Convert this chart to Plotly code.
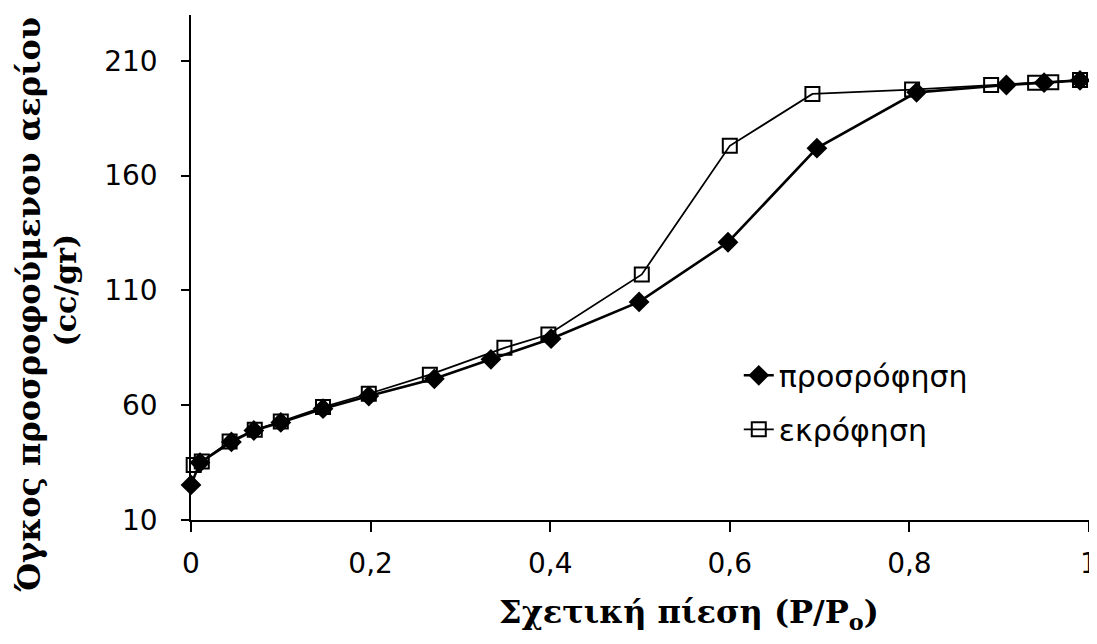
import plotly.graph_objects as go

# Adsorption (filled diamonds)
ads_x = [0.0, 0.01, 0.045, 0.07, 0.1, 0.147, 0.198, 0.271, 0.334, 0.401, 0.499, 0.598, 0.697, 0.808, 0.908, 0.95, 0.99]
ads_y = [25.3, 35.0, 44.0, 49.0, 52.5, 58.5, 64.0, 71.5, 80.0, 89.0, 105.0, 131.0, 172.0, 196.3, 199.5, 200.5, 201.5]

# Desorption (open squares)
des_x = [0.99, 0.958, 0.94, 0.891, 0.803, 0.692, 0.6, 0.502, 0.398, 0.349, 0.266, 0.198, 0.147, 0.1, 0.071, 0.043, 0.012, 0.003]
des_y = [201.7, 200.7, 200.5, 199.5, 197.5, 195.6, 173.0, 117.0, 90.8, 85.0, 73.3, 65.0, 59.2, 52.9, 49.3, 44.2, 35.5, 34.0]

x_ticks = [0, 0.2, 0.4, 0.6, 0.8, 1]
x_ticktext = ["0", "0,2", "0,4", "0,6", "0,8", "1"]
y_ticks = [10, 60, 110, 160, 210]

ads_name = "προσρόφηση"
des_name = "εκρόφηση"
x_title = "Σχετική πίεση (P/P<sub>o</sub>)"
y_title_1 = "Όγκος προσροφούμενου αερίου"
y_title_2 = "(cc/gr)"

SANS = "DejaVu Sans, Arial, sans-serif"
SERIF = "DejaVu Serif, Times New Roman, serif"

fig = go.Figure()
fig.add_trace(go.Scatter(
    x=ads_x, y=ads_y, mode="lines+markers", name=ads_name,
    line=dict(color="black", width=2.6),
    marker=dict(symbol="diamond", size=16, color="black"),
    cliponaxis=False, legendgroup="a",
))
fig.add_trace(go.Scatter(
    x=des_x, y=des_y, mode="lines+markers", name=des_name,
    line=dict(color="black", width=1.8),
    marker=dict(symbol="square-open", size=14, color="black", line=dict(width=2)),
    cliponaxis=False, legendgroup="b",
))

fig.update_layout(
    width=1097, height=644,
    margin=dict(l=183, r=16, t=7, b=132),
    paper_bgcolor="white", plot_bgcolor="white",
    font=dict(family=SANS, size=28, color="black"),
    showlegend=True,
    legend=dict(
        x=0.61, y=0.338, xanchor="left", yanchor="top",
        bgcolor="rgba(0,0,0,0)", tracegroupgap=12,
        font=dict(family=SANS, size=30, color="black"),
    ),
    xaxis=dict(
        range=[0, 1], tickvals=x_ticks, ticktext=x_ticktext, automargin=False,
        showgrid=False, zeroline=False, showline=True, linecolor="black", linewidth=1.5,
        ticks="outside", ticklen=10, tickcolor="black", tickwidth=1.5,
        ticklabelstandoff=8,
    ),
    yaxis=dict(
        range=[10, 230], tickvals=y_ticks, automargin=False,
        showgrid=False, zeroline=False, showline=True, linecolor="black", linewidth=1.5,
        ticks="outside", ticklen=8, tickcolor="black", tickwidth=1.5,
        ticklabelstandoff=18,
    ),
    annotations=[
        dict(text="<b>" + x_title + "</b>", xref="paper", yref="paper", x=0.555, y=-0.187,
             xanchor="center", yanchor="middle", showarrow=False,
             font=dict(family=SERIF, size=32, color="black")),
        dict(text="<b>" + y_title_1 + "</b>", xref="paper", yref="paper", x=-0.181, y=0.426,
             xanchor="center", yanchor="middle", showarrow=False, textangle=-90,
             font=dict(family=SERIF, size=32, color="black")),
        dict(text="<b>" + y_title_2 + "</b>", xref="paper", yref="paper", x=-0.14, y=0.455,
             xanchor="center", yanchor="middle", showarrow=False, textangle=-90,
             font=dict(family=SERIF, size=30, color="black")),
    ],
)

fig.write_html("out.html")
